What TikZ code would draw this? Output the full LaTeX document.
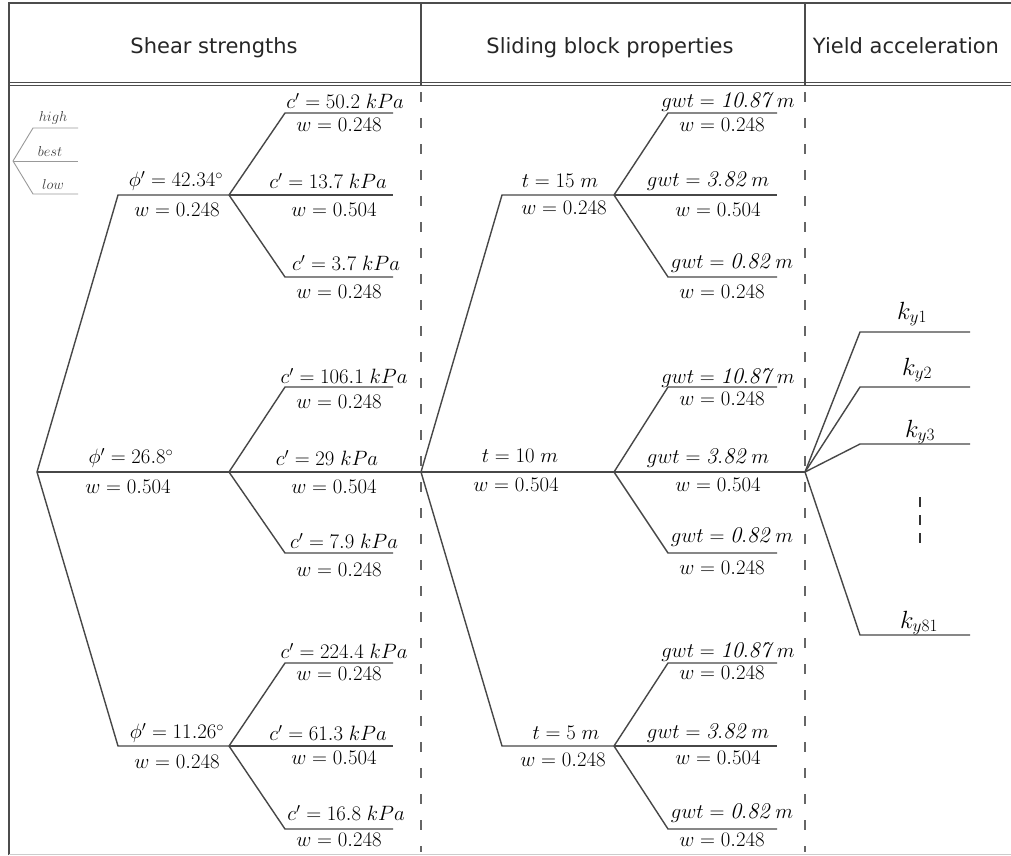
\documentclass[tikz,border=0pt]{standalone}
\usepackage{fontspec}
\newfontfamily\hdrfont{DejaVu Sans}
\begin{document}
\begin{tikzpicture}[x=1pt,y=-1pt,
  br/.style={draw=black!72, line width=1.4pt},
  frm/.style={draw=black!70, line width=1.2pt},
  dsh/.style={draw=black!60, line width=1.3pt, dash pattern=on 10pt off 16pt},
  lb/.style={font=\fontsize{22.5}{24}\selectfont, inner sep=0pt},
  kl/.style={font=\fontsize{26}{28}\selectfont, inner sep=0pt},
  hd/.style={font=\hdrfont\fontsize{21}{24}\selectfont, text=black!85, anchor=base, inner sep=0pt},
  lg/.style={draw=black!40, line width=0.9pt},
  lgt/.style={font=\fontsize{15}{16}\selectfont, text=black!75, inner sep=0pt}]
\useasboundingbox (0,0) rectangle (1011,855);
\fill[white] (0,0) rectangle (1011,855);
% frame
\draw[frm] (9,855) -- (9,3) -- (1011,3);
\draw[frm, line width=1pt] (9,82.5) -- (1011,82.5);
\draw[frm, line width=1pt] (9,85.5) -- (1011,85.5);
\draw[frm] (421,3) -- (421,85);
\draw[frm] (805,3) -- (805,85);
\draw[black!20, line width=1pt] (9,854) -- (1011,854);
\draw[dsh] (421,92) -- (421,852);
\draw[dsh] (805,92) -- (805,852);
% headers
\node[hd] (h1) at (214,53) {Shear strengths};
\node[hd] (h2) at (610,53) {Sliding block properties};
\node[hd] (h3) at (906,53) {Yield acceleration};
% legend
\coordinate (L) at (13,161);
\coordinate (L1a) at (33,128); \coordinate (L1) at (78,128);
\coordinate (L2) at (78,161);
\coordinate (L3a) at (33,194); \coordinate (L3) at (78,194);
\draw[lg] (L) -- (L1a) -- (L1);
\draw[lg] (L) -- (L2);
\draw[lg] (L) -- (L3a) -- (L3);
\node[lgt] (lhigh) at (53,118) {$high$};
\node[lgt] (lbest) at (50,151) {$best$};
\node[lgt] (llow) at (53,184) {$low$};
% shear strength tree
\coordinate (R) at (37,472);
\coordinate (A1) at (118,195); \coordinate (A) at (229,195);
\coordinate (B) at (229,472);
\coordinate (C1) at (118,746); \coordinate (C) at (229,746);
\draw[br] (R) -- (A1) -- (A);
\draw[br] (R) -- (B);
\draw[br] (R) -- (C1) -- (C);
\coordinate (Aa1) at (285,113); \coordinate (Aa) at (393,113);
\coordinate (Ab) at (393,195);
\coordinate (Ac1) at (285,277); \coordinate (Ac) at (393,277);
\coordinate (Ba1) at (285,387); \coordinate (Ba) at (393,387);
\coordinate (Bb) at (421,472);
\coordinate (Bc1) at (285,553); \coordinate (Bc) at (393,553);
\coordinate (Ca1) at (285,663); \coordinate (Ca) at (393,663);
\coordinate (Cb) at (393,746);
\coordinate (Cc1) at (285,829); \coordinate (Cc) at (393,829);
\draw[br] (A) -- (Aa1) -- (Aa); \draw[br] (A) -- (Ab); \draw[br] (A) -- (Ac1) -- (Ac);
\draw[br] (B) -- (Ba1) -- (Ba); \draw[br] (B) -- (Bb); \draw[br] (B) -- (Bc1) -- (Bc);
\draw[br] (C) -- (Ca1) -- (Ca); \draw[br] (C) -- (Cb); \draw[br] (C) -- (Cc1) -- (Cc);
\node[lb] (pA) at (176,181) {$\phi' = 42.34^\circ$};
\node[lb] (wA) at (177,210) {$w = 0.248$};
\node[lb] (pB) at (131,458) {$\phi' = 26.8^\circ$};
\node[lb] (wB) at (128,487) {$w = 0.504$};
\node[lb] (pC) at (177,733) {$\phi' = 11.26^\circ$};
\node[lb] (wC) at (177,762) {$w = 0.248$};
\node[lb] (cAa) at (345,101) {$c' = 50.2\;kPa$};
\node[lb] (wAa) at (339,125) {$w = 0.248$};
\node[lb] (cAb) at (328,181) {$c' = 13.7\;kPa$};
\node[lb] (wAb) at (334,210) {$w = 0.504$};
\node[lb] (cAc) at (346,263) {$c' = 3.7\;kPa$};
\node[lb] (wAc) at (339,292) {$w = 0.248$};
\node[lb] (cBa) at (344,376) {$c' = 106.1\;kPa$};
\node[lb] (wBa) at (339,402) {$w = 0.248$};
\node[lb] (cBb) at (327,458) {$c' = 29\;kPa$};
\node[lb] (wBb) at (334,487) {$w = 0.504$};
\node[lb] (cBc) at (344,541) {$c' = 7.9\;kPa$};
\node[lb] (wBc) at (339,570) {$w = 0.248$};
\node[lb] (cCa) at (344,651) {$c' = 224.4\;kPa$};
\node[lb] (wCa) at (339,674) {$w = 0.248$};
\node[lb] (cCb) at (328,733) {$c' = 61.3\;kPa$};
\node[lb] (wCb) at (334,758) {$w = 0.504$};
\node[lb] (cCc) at (346,813) {$c' = 16.8\;kPa$};
\node[lb] (wCc) at (339,840) {$w = 0.248$};
% sliding block tree
\coordinate (S) at (421,472);
\coordinate (T1a) at (502,195); \coordinate (T1) at (614,195);
\coordinate (T2) at (614,472);
\coordinate (T3a) at (502,746); \coordinate (T3) at (614,746);
\draw[br] (S) -- (T1a) -- (T1);
\draw[br] (S) -- (T2);
\draw[br] (S) -- (T3a) -- (T3);
\coordinate (G1a1) at (668,113); \coordinate (G1a) at (777,113);
\coordinate (G1b) at (777,195);
\coordinate (G1c1) at (668,277); \coordinate (G1c) at (777,277);
\coordinate (G2a1) at (668,387); \coordinate (G2a) at (777,387);
\coordinate (Y) at (805,472);
\coordinate (G2c1) at (668,553); \coordinate (G2c) at (777,553);
\coordinate (G3a1) at (668,663); \coordinate (G3a) at (777,663);
\coordinate (G3b) at (777,746);
\coordinate (G3c1) at (668,829); \coordinate (G3c) at (777,829);
\draw[br] (T1) -- (G1a1) -- (G1a); \draw[br] (T1) -- (G1b); \draw[br] (T1) -- (G1c1) -- (G1c);
\draw[br] (T2) -- (G2a1) -- (G2a); \draw[br] (T2) -- (Y); \draw[br] (T2) -- (G2c1) -- (G2c);
\draw[br] (T3) -- (G3a1) -- (G3a); \draw[br] (T3) -- (G3b); \draw[br] (T3) -- (G3c1) -- (G3c);
\node[lb] (t1) at (560,181) {$t = 15\;m$};
\node[lb] (wt1) at (564,208) {$w = 0.248$};
\node[lb] (t2) at (520,456) {$t = 10\;m$};
\node[lb] (wt2) at (516,485) {$w = 0.504$};
\node[lb] (t3) at (566,733) {$t = 5\;m$};
\node[lb] (wt3) at (563,760) {$w = 0.248$};
\node[lb] (g1a) at (728,102) {$gwt = \mathit{10.87}\;m$};
\node[lb] (wg1a) at (722,125) {$w = 0.248$};
\node[lb] (g1b) at (708,181) {$gwt = \mathit{3.82}\;m$};
\node[lb] (wg1b) at (718,210) {$w = 0.504$};
\node[lb] (g1c) at (732,263) {$gwt = \mathit{0.82}\;m$};
\node[lb] (wg1c) at (722,292) {$w = 0.248$};
\node[lb] (g2a) at (728,378) {$gwt = \mathit{10.87}\;m$};
\node[lb] (wg2a) at (722,399) {$w = 0.248$};
\node[lb] (g2b) at (708,458) {$gwt = \mathit{3.82}\;m$};
\node[lb] (wg2b) at (718,485) {$w = 0.504$};
\node[lb] (g2c) at (732,537) {$gwt = \mathit{0.82}\;m$};
\node[lb] (wg2c) at (722,568) {$w = 0.248$};
\node[lb] (g3a) at (728,652) {$gwt = \mathit{10.87}\;m$};
\node[lb] (wg3a) at (722,673) {$w = 0.248$};
\node[lb] (g3b) at (708,733) {$gwt = \mathit{3.82}\;m$};
\node[lb] (wg3b) at (718,758) {$w = 0.504$};
\node[lb] (g3c) at (732,813) {$gwt = \mathit{0.82}\;m$};
\node[lb] (wg3c) at (722,840) {$w = 0.248$};
% yield acceleration
\coordinate (K1a) at (860,332); \coordinate (K1) at (970,332);
\coordinate (K2a) at (860,387); \coordinate (K2) at (970,387);
\coordinate (K3a) at (860,444); \coordinate (K3) at (970,444);
\coordinate (K81a) at (860,635); \coordinate (K81) at (970,635);
\draw[br] (Y) -- (K1a) -- (K1);
\draw[br] (Y) -- (K2a) -- (K2);
\draw[br] (Y) -- (K3a) -- (K3);
\draw[br] (Y) -- (K81a) -- (K81);
\node[kl] (k1) at (912,314) {$k_{y1}$};
\node[kl] (k2) at (917,370) {$k_{y2}$};
\node[kl] (k3) at (920,432) {$k_{y3}$};
\node[kl] (k81) at (919,623) {$k_{y81}$};
\coordinate (D1) at (920,497); \coordinate (D2) at (920,547);
\draw[black!80, line width=1.4pt, dash pattern=on 10pt off 8pt] (D1) -- (D2);
\end{tikzpicture}
\end{document}
